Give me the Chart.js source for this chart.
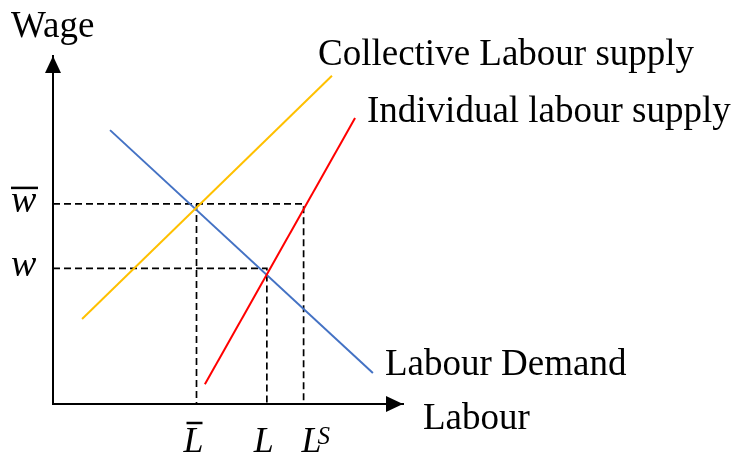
<!DOCTYPE html>
<html>
<head>
<meta charset="utf-8">
<script src="https://cdn.jsdelivr.net/npm/chart.js@4"></script>
<style>
  html, body { margin: 0; padding: 0; background: #fff; }
  #wrap { width: 732px; height: 454px; }
</style>
</head>
<body>
<div id="wrap"><canvas id="chart" width="732" height="454"></canvas></div>
<script>
// axis marks (labour on x, wage on y)
const labourTicks = [4.1, 6.11, 7.16];
const labourLabels = ["L", "L", "L"]; // L-bar, L, L^S
const wageTicks = [5.75, 3.9];
const wageLabels = ["w", "w"]; // w-bar, w

// curves, two end points each
const collectiveX = [0.83, 7.97];
const collectiveY = [2.44, 9.43];
const individualX = [4.34, 8.63];
const individualY = [0.57, 8.22];
const demandX = [1.63, 9.14];
const demandY = [7.87, 0.89];

const curveNames = ["Collective Labour supply", "Individual labour supply", "Labour Demand"];

function pts(xs, ys) {
  return xs.map((x, i) => ({ x: x, y: ys[i] }));
}

const wBar = wageTicks[0], w = wageTicks[1];
const lBar = labourTicks[0], l = labourTicks[1], lS = labourTicks[2];

function curve(label, data, color) {
  return {
    label: label, data: data, showLine: true, borderColor: color,
    borderWidth: 2, pointRadius: 0, fill: false, order: 0,
  };
}
function guide(data) {
  return {
    label: "guide", data: data, showLine: true, borderColor: "#000",
    borderWidth: 1.7, borderDash: [7, 4], pointRadius: 0, fill: false, order: 1,
  };
}

const serif = '"Liberation Serif", "Times New Roman", serif';

const labelsPlugin = {
  id: "labels",
  afterDraw(chart) {
    const ctx = chart.ctx;
    const xs = chart.scales.x, ys = chart.scales.y;
    const x0 = xs.getPixelForValue(0), y0 = ys.getPixelForValue(0);
    const xEnd = xs.getPixelForValue(10), yEnd = ys.getPixelForValue(10);
    ctx.save();
    ctx.fillStyle = "#000";
    // arrow heads
    ctx.beginPath();
    ctx.moveTo(x0, yEnd);
    ctx.lineTo(x0 - 8, yEnd + 17);
    ctx.lineTo(x0 + 8, yEnd + 17);
    ctx.closePath();
    ctx.fill();
    ctx.beginPath();
    ctx.moveTo(xEnd, y0);
    ctx.lineTo(xEnd - 17, y0 - 8);
    ctx.lineTo(xEnd - 17, y0 + 8);
    ctx.closePath();
    ctx.fill();

    // axis titles and curve names
    ctx.font = "37px " + serif;
    ctx.textBaseline = "alphabetic";
    ctx.textAlign = "left";
    ctx.fillText("Wage", 11, 37);
    ctx.fillText("Labour", 423, 429);
    ctx.fillText(curveNames[0], 318, 65);
    ctx.fillText(curveNames[1], 367, 122);
    ctx.fillText(curveNames[2], 385, 375);

    // wage tick labels
    ctx.font = "italic 38px " + serif;
    ctx.lineWidth = 2.5;
    wageTicks.forEach((v, i) => {
      const py = ys.getPixelForValue(v);
      ctx.textAlign = "left";
      ctx.fillText(wageLabels[i], 11, py + 8);
      if (i === 0) {
        ctx.beginPath();
        ctx.moveTo(11, py - 16);
        ctx.lineTo(38, py - 16);
        ctx.stroke();
      }
    });

    // labour tick labels
    const shift = [-3, -3, 8];
    labourTicks.forEach((v, i) => {
      const px = xs.getPixelForValue(v) + shift[i];
      ctx.font = "italic 36px " + serif;
      ctx.textAlign = "center";
      ctx.fillText(labourLabels[i], px, 452);
      if (i === 0) {
        ctx.beginPath();
        ctx.moveTo(px - 7, 423);
        ctx.lineTo(px + 9, 423);
        ctx.stroke();
      }
      if (i === 2) {
        ctx.font = "italic 25px " + serif;
        ctx.textAlign = "left";
        ctx.fillText("S", px + 6, 444);
      }
    });
    ctx.restore();
  },
};

new Chart(document.getElementById("chart"), {
  type: "scatter",
  data: {
    datasets: [
      curve(curveNames[0], pts(collectiveX, collectiveY), "#FFC000"),
      curve(curveNames[1], pts(individualX, individualY), "#FF0000"),
      curve(curveNames[2], pts(demandX, demandY), "#4472C4"),
      guide([{ x: 0, y: wBar }, { x: lS, y: wBar }, { x: lS, y: 0 }]),
      guide([{ x: lBar, y: wBar }, { x: lBar, y: 0 }]),
      guide([{ x: 0, y: w }, { x: l, y: w }, { x: l, y: 0 }]),
    ],
  },
  options: {
    responsive: false,
    animation: false,
    layout: { padding: { left: 53, right: 329, top: 56, bottom: 50 } },
    plugins: { legend: { display: false }, tooltip: { enabled: false } },
    scales: {
      x: {
        type: "linear", min: 0, max: 10,
        grid: { display: false, drawTicks: false },
        ticks: { display: false },
        border: { display: true, color: "#000", width: 2 },
      },
      y: {
        type: "linear", min: 0, max: 10,
        grid: { display: false, drawTicks: false },
        ticks: { display: false },
        border: { display: true, color: "#000", width: 2 },
      },
    },
  },
  plugins: [labelsPlugin],
});
</script>
</body>
</html>
